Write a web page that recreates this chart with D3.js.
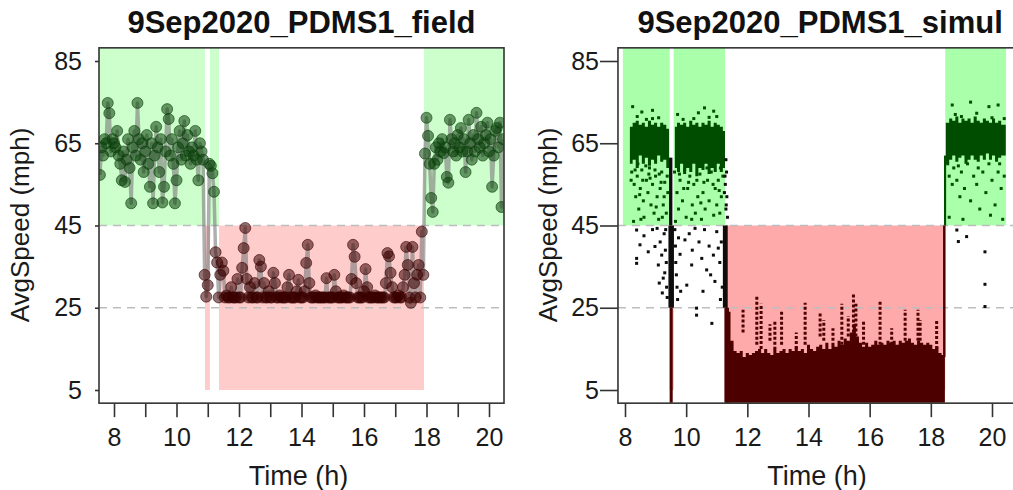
<!DOCTYPE html>
<html>
<head>
<meta charset="utf-8">
<script src="https://cdn.jsdelivr.net/npm/d3@7"></script>
<style>
  body { margin: 0; background: #fff; }
  svg { display: block; font-family: "Liberation Sans", Arial, sans-serif; }
</style>
</head>
<body>
<svg id="chart" width="1013" height="490"></svg>
<script>
// ---------------- data ----------------
var yTicks = [5, 25, 45, 65, 85];
var thresholds = [25, 45];

// field panel: avg speed every 3 minutes starting at 7.55 h
var fieldStart = 7.55, fieldStep = 0.05;
var fieldSpeed = [
  57.3, 64, 62, 66, 65, 74.8, 72.3, 63, 66,
  65, 64, 68, 62, 60, 56, 63, 55.6, 61, 66, 59, 50.4, 64, 68, 62, 74.8, 66, 61, 65, 58,
  63, 67, 60, 54.4, 65, 50.4, 62, 69, 64, 58, 66, 50.6, 54.4, 63, 73.3, 70.9, 62, 66, 60, 50.4,
  56, 64, 68, 61, 65, 70.4, 62, 67, 63, 60, 64, 62, 68, 61, 56, 65, 63, 61, 33, 27.7,
  30.5, 60, 59.5, 57.7, 53.2, 38.5, 36, 27.5, 33, 36, 34, 27.5, 28, 27.5, 27.5, 30, 27.5, 27.5, 27.5, 32,
  27.5, 27.5, 34.7, 39.5, 44.4, 32, 27.5, 30, 27.5, 27.5, 31, 27.5, 27.5, 36.6, 35, 27.5, 31, 27.5, 27.5, 29,
  27.5, 27.5, 33.5, 31, 27.5, 27.5, 28, 27.5, 27.5, 27.5, 27.5, 30, 33, 27.5, 27.5, 27.5, 27.5, 29, 31.8, 27.5,
  27.5, 27.5, 29, 35.9, 40.3, 31, 27.5, 27.5, 27.5, 28, 27.5, 27.5, 27.5, 27.5, 27.5, 27.5, 32.2, 27.5, 27.5, 27.5,
  27.5, 33, 29, 27.5, 27.5, 27.5, 27.5, 28, 27.5, 27.5, 27.5, 27.5, 32, 40.3, 37.4, 31, 27.5, 27.5, 27.5, 27.5,
  29, 34.4, 30, 27.5, 27.5, 27.5, 27.5, 28, 27.5, 27.5, 27.5, 27.5, 27.5, 27.5, 31, 38.3, 37.5, 33.5, 30, 27.5,
  27.5, 27.5, 28, 27.5, 27.5, 30, 33, 39.8, 35.4, 27.5, 26.2, 39.8, 31, 27.5, 33, 35.4, 27.5, 43.5, 33, 62.5,
  71.2, 66.8, 60, 51.7, 48.3, 60, 64, 61, 65, 63, 66, 62.6, 64, 56.8, 55.4, 70.7, 66, 63, 65, 62,
  67, 64, 68.7, 63, 66, 58, 63, 70.7, 65, 61, 67, 63, 72.4, 66, 64, 69, 62, 65, 67, 70,
  63, 66, 54.4, 62, 68, 68.7, 64, 70, 49.5, 66
];
var fieldGreen = [[7.4, 10.91], [11.07, 11.36], [17.92, 20.6]];
var fieldRed = [[10.91, 11.07], [11.36, 17.92]];

// simulation panel
var simGreen = [[7.93, 9.46], [9.59, 11.27], [18.47, 20.46]];
var simRed = [[9.46, 9.59], [11.27, 18.47]];

// dense cores of the simulated cloud: [time, low, high]
var simGreenCore = [
  [[8.16, 60, 69], [8.25, 61, 70], [8.35, 59, 70.5], [8.45, 62, 69.5], [8.55, 60, 70], [8.65, 61.5, 69],
   [8.75, 59.5, 70.5], [8.85, 61, 69.5], [8.95, 60, 70], [9.05, 62, 69], [9.15, 60.5, 70], [9.25, 61, 69.5],
   [9.35, 59, 68.5], [9.44, 60, 68]],
  [[9.63, 59, 69], [9.7, 58, 70], [9.8, 60, 69.5], [9.9, 57.5, 70], [10.0, 59, 69], [10.1, 58, 70.5],
   [10.2, 60, 69.5], [10.3, 57, 70], [10.4, 59, 69], [10.5, 58.5, 70], [10.6, 60, 69.5], [10.7, 57.5, 70.5],
   [10.8, 59, 69], [10.9, 58, 70], [11.0, 60, 69.5], [11.1, 58, 69], [11.2, 59, 68], [11.27, 59, 68]],
  [[18.49, 60, 70], [18.6, 61, 71], [18.7, 62, 70.5], [18.8, 60.5, 71.5], [18.9, 61.5, 70], [19.0, 62, 71],
   [19.1, 60, 70.5], [19.2, 61, 71], [19.3, 62, 70], [19.4, 61, 71.5], [19.5, 60.5, 70.5], [19.6, 62, 70],
   [19.7, 61, 71], [19.8, 62.5, 70.5], [19.9, 61, 70], [20.0, 62, 71], [20.1, 60.5, 70], [20.2, 61.5, 70.5],
   [20.3, 62, 69.5], [20.45, 62, 69.5]]
];
// upper edge of the congested (dark red) cloud: [time, top]
var simRedMass = [
  [11.3, 45], [11.36, 24], [11.45, 17], [11.55, 14.5], [11.65, 14], [11.75, 14.5], [11.85, 13], [11.95, 14],
  [12.05, 13.5], [12.15, 14], [12.25, 14.5], [12.35, 15], [12.45, 14], [12.55, 15], [12.65, 14], [12.75, 13.5],
  [12.85, 15.5], [12.95, 14], [13.05, 14.5], [13.15, 15], [13.25, 14], [13.35, 15], [13.45, 14.5], [13.55, 15.5],
  [13.65, 14.5], [13.75, 15], [13.85, 14], [13.95, 16], [14.05, 15], [14.15, 14.5], [14.25, 15.5], [14.35, 16],
  [14.45, 15], [14.55, 16.5], [14.65, 15], [14.75, 16.5], [14.85, 15.5], [14.95, 17], [15.05, 16], [15.15, 17.5],
  [15.25, 17], [15.35, 19], [15.45, 21], [15.55, 18], [15.65, 16.5], [15.75, 15.5], [15.85, 16.5], [15.95, 15.5],
  [16.05, 16], [16.15, 17], [16.25, 16], [16.35, 16.5], [16.45, 16], [16.55, 17], [16.65, 16.5], [16.75, 17],
  [16.85, 16], [16.95, 17], [17.05, 16.5], [17.15, 17], [17.25, 17.5], [17.35, 16.5], [17.45, 16], [17.55, 17],
  [17.65, 16.5], [17.75, 16], [17.85, 16.5], [17.95, 16], [18.05, 15], [18.15, 15.5], [18.25, 14], [18.35, 13.5],
  [18.46, 13.5]
];
// vertical bursts of points: [t0, t1, low, high, kind]
var simStrips = [
  [9.44, 9.55, 45, 61.5, "k"], [9.42, 9.6, 25, 45, "k"], [9.46, 9.56, 1.9, 25, "r"],
  [11.2, 11.33, 25, 45, "k"], [11.25, 11.4, 1.9, 25, "r"],
  [18.43, 18.5, 45, 62, "g"], [18.4, 18.48, 13, 45, "r"]
];
// columns of congested points above the cloud: [time, low, high]
var simSpikes = [
  [11.86, 19, 24.5], [12.31, 16, 27.7], [12.45, 15, 26], [12.74, 17, 21], [12.9, 16, 22], [13.12, 16, 24.5],
  [13.6, 15, 19], [13.89, 16, 26.2], [14.38, 18, 24], [14.5, 17, 22], [14.8, 17, 20], [15.09, 16, 26],
  [15.3, 18, 23], [15.47, 19, 28.5], [15.55, 18, 26], [15.8, 16, 22], [16.34, 16, 26.9], [16.72, 16, 20],
  [17.16, 17, 24.5], [17.58, 17, 24.5], [17.65, 17, 22], [18.19, 15, 22]
];
var simGreenDots = [
  [8.25, 73.9], [8.55, 72.6], [8.9, 73], [8.9, 71], [8.4, 71.5], [9.1, 71.2], [8.7, 70.8],
  [9.72, 72], [10.6, 73.6], [10.9, 72.8], [11.0, 71.5], [10.25, 71], [10.75, 71.3], [9.9, 70.8], [10.4, 72.4],
  [18.7, 74.3], [19.3, 75], [19.9, 73.9], [20.2, 74.3], [18.8, 72], [19.0, 71.5], [19.5, 72.3], [20.0, 71.2], [20.4, 71],
  [8.22, 58], [8.3, 55], [8.35, 52], [8.4, 57], [8.45, 49], [8.5, 54], [8.55, 58.5], [8.6, 51], [8.62, 47], [8.7, 56],
  [8.75, 53], [8.8, 59], [8.85, 50], [8.9, 55], [8.95, 48], [9.0, 57], [9.05, 52], [9.1, 46.5], [9.15, 54], [9.2, 58],
  [9.25, 50], [9.3, 55.5], [9.35, 48], [9.4, 53], [8.28, 46], [8.52, 46.5], [8.68, 59.5], [9.02, 49.5], [9.22, 47],
  [8.42, 60], [8.82, 56.5], [9.12, 57.5], [8.2, 56], [8.33, 58.5], [8.58, 56], [8.78, 57.5], [8.98, 58.5],
  [9.18, 55.5], [9.38, 57], [8.48, 52.5], [9.28, 52],
  [9.62, 58], [9.7, 53], [9.75, 49], [9.8, 56], [9.88, 51], [9.95, 58.5], [10.0, 47], [10.05, 54], [10.12, 57],
  [10.2, 50], [10.25, 55], [10.3, 48], [10.38, 52], [10.45, 57.5], [10.5, 46.5], [10.55, 53], [10.62, 49], [10.7, 56],
  [10.75, 51], [10.82, 58], [10.9, 47.5], [10.95, 54], [11.0, 50], [11.05, 56], [11.1, 48], [11.15, 52], [11.2, 57],
  [9.65, 46], [10.18, 46.5], [10.68, 59], [11.12, 59], [9.78, 57.5], [10.08, 55.5], [10.35, 56], [10.58, 55.5],
  [10.88, 55], [11.08, 53.5], [9.92, 54], [10.48, 50.5],
  [18.55, 60], [18.6, 57], [18.7, 55], [18.75, 59], [18.85, 56], [18.95, 52], [19.0, 58], [19.1, 54], [19.2, 60],
  [19.3, 51], [19.4, 57], [19.5, 55], [19.6, 49], [19.7, 58], [19.8, 53], [19.9, 60], [20.0, 56], [20.1, 50],
  [20.2, 58], [20.3, 54], [20.4, 57], [18.6, 47], [19.05, 46.5], [19.95, 47.5], [20.35, 46.5], [18.9, 59.5],
  [19.55, 59], [20.25, 60]
];
var simBlackDots = [
  [8.38, 43.9], [8.49, 40.3], [8.38, 37], [8.38, 35.8], [8.76, 38.6], [8.98, 39.9], [9.09, 35.4], [9.2, 37.8],
  [9.25, 32.2], [8.62, 42.5], [9.05, 44.3], [9.15, 41], [9.28, 43], [9.32, 39], [9.35, 36], [9.3, 33.5], [9.36, 30],
  [9.38, 27.5], [9.33, 44], [9.22, 28.6], [9.12, 31], [8.9, 44],
  [9.63, 44], [9.65, 40], [9.66, 36], [9.68, 33], [9.7, 30], [9.72, 27], [9.75, 42], [9.8, 38], [9.82, 29],
  [9.96, 41.5], [10.02, 30.5], [10.29, 44.3], [10.34, 24.9], [10.34, 23.2], [10.84, 21.2], [10.18, 35.4], [10.51, 37],
  [10.67, 34.2], [10.89, 37.8], [10.94, 31.4], [11.05, 39.5], [10.1, 43], [10.42, 41], [10.6, 44], [10.75, 40],
  [10.8, 33], [11.0, 43.5], [11.1, 36], [11.15, 41], [11.18, 30], [11.12, 27], [10.55, 29], [10.2, 39],
  [11.3, 61], [11.32, 58], [11.28, 55], [11.33, 52], [11.3, 49], [11.35, 47], [11.27, 57], [11.31, 50], [11.25, 53],
  [18.85, 43.9], [18.9, 41.1], [19.17, 42.3], [19.77, 38.6], [19.77, 30.7], [19.77, 25.3]
];

// ---------------- colours ----------------
var col = {
  fieldGreen: "#ccffcc", fieldRed: "#ffcccc",
  simGreen: "#aaffaa", simRed: "#ffaaaa",
  ptGreen: "#0a400a", ptRed: "#3a0000",
  dotGreen: "#004d00", dotRed: "#4d0000", dotBlack: "#0d0d0d",
  frame: "#333", text: "#1a1a1a", dash: "#bdbdbd"
};
var kindCol = { g: col.dotGreen, r: col.dotRed, k: col.dotBlack };

var svg = d3.select("#chart");

// shared y scale, R style 4% padding around [5, 85]
var y = d3.scaleLinear().domain([5, 85]).range([390, 61]);
var usrY = [1.8, 88.2];

function panel(opt) {
  var x = opt.x, usrX = opt.usrX;
  var box = {left: x(usrX[0]), right: x(usrX[1]), top: y(usrY[1]), bottom: y(usrY[0])};
  var g = svg.append("g");
  var clipId = "clip-" + opt.id;
  svg.append("clipPath").attr("id", clipId)
    .append("rect")
      .attr("x", box.left).attr("y", box.top)
      .attr("width", box.right - box.left).attr("height", box.bottom - box.top);
  var plot = g.append("g").attr("clip-path", "url(#" + clipId + ")");

  // background bands
  plot.selectAll(".gband").data(opt.green).enter().append("rect")
    .attr("x", function(d) { return x(d[0]); })
    .attr("width", function(d) { return x(d[1]) - x(d[0]); })
    .attr("y", y(usrY[1]))
    .attr("height", y(45) - y(usrY[1]))
    .attr("fill", opt.greenCol);
  plot.selectAll(".rband").data(opt.red).enter().append("rect")
    .attr("x", function(d) { return x(d[0]); })
    .attr("width", function(d) { return x(d[1]) - x(d[0]); })
    .attr("y", y(45))
    .attr("height", y(5) - y(45))
    .attr("fill", opt.redCol);

  // threshold lines
  plot.selectAll(".thr").data(thresholds).enter().append("line")
    .attr("x1", box.left).attr("x2", box.right)
    .attr("y1", function(d) { return y(d); }).attr("y2", function(d) { return y(d); })
    .attr("stroke", col.dash).attr("stroke-width", 1.5).attr("stroke-dasharray", "8,6");

  return {g: g, plot: plot, box: box};
}

function frameAndAxes(p, opt) {
  var box = p.box, x = opt.x;
  p.g.append("rect")
    .attr("x", box.left).attr("y", box.top)
    .attr("width", box.right - box.left).attr("height", box.bottom - box.top)
    .attr("fill", "none").attr("stroke", col.frame).attr("stroke-width", 1.6);

  var xa = p.g.append("g")
    .attr("transform", "translate(0," + box.bottom + ")")
    .call(d3.axisBottom(x).tickValues(opt.xTicks).tickSize(14).tickPadding(11)
      .tickFormat(function(d) { return d % 2 ? "" : d; }));
  var ya = p.g.append("g")
    .attr("transform", "translate(" + box.left + ",0)")
    .call(d3.axisLeft(y).tickValues(yTicks).tickSize(opt.yTickLen).tickPadding(opt.yPad));
  [xa, ya].forEach(function(a) {
    a.select(".domain").remove();
    a.selectAll("line").attr("stroke", col.frame).attr("stroke-width", 1.6);
    a.selectAll("text").attr("fill", col.text).style("font-size", "25px")
      .style("font-family", "'Liberation Sans', Arial, sans-serif");
  });

  var cx = (box.left + box.right) / 2;
  p.g.append("text").attr("x", cx).attr("y", 33).attr("text-anchor", "middle")
    .style("font-size", "31px").style("font-weight", "bold").attr("fill", "#111")
    .text(opt.title);
  p.g.append("text").attr("x", cx - 3).attr("y", 485).attr("text-anchor", "middle")
    .style("font-size", "27px").attr("fill", col.text).text("Time (h)");
  p.g.append("text")
    .attr("transform", "translate(" + opt.ylabX + ",225) rotate(-90)")
    .attr("text-anchor", "middle")
    .style("font-size", "26px").attr("fill", col.text).text("AvgSpeed (mph)");
}

// ---------------- field panel ----------------
var xL = d3.scaleLinear().domain([8, 20]).range([114, 489]);
var optL = {id: "field", x: xL, usrX: [7.52, 20.48], green: fieldGreen, red: fieldRed,
  greenCol: col.fieldGreen, redCol: col.fieldRed, xTicks: d3.range(8, 21),
  yTickLen: 4, yPad: 13, ylabX: 29, title: "9Sep2020_PDMS1_field"};
var pL = panel(optL);

var fieldData = fieldSpeed.map(function(v, i) { return {t: fieldStart + i * fieldStep, v: v}; });

pL.plot.append("path").datum(fieldData)
  .attr("d", d3.line().x(function(d) { return xL(d.t); }).y(function(d) { return y(d.v); }))
  .attr("fill", "none").attr("stroke", "#7a7a7a").attr("stroke-opacity", 0.6)
  .attr("stroke-width", 3.5).attr("stroke-linejoin", "round");

pL.plot.selectAll(".pt").data(fieldData).enter().append("circle")
  .attr("cx", function(d) { return xL(d.t); })
  .attr("cy", function(d) { return y(d.v); })
  .attr("r", 5.5)
  .attr("fill", function(d) { return d.v >= 45 ? col.ptGreen : col.ptRed; })
  .attr("fill-opacity", 0.55)
  .attr("stroke", function(d) { return d.v >= 45 ? col.ptGreen : col.ptRed; })
  .attr("stroke-opacity", 0.6).attr("stroke-width", 1);

frameAndAxes(pL, optL);

// ---------------- simulation panel ----------------
var xR = d3.scaleLinear().domain([8, 20]).range([625, 992]);
var optR = {id: "simul", x: xR, usrX: [7.77, 20.99], green: simGreen, red: simRed,
  greenCol: col.simGreen, redCol: col.simRed, xTicks: [8, 10, 12, 14, 16, 18, 20],
  yTickLen: 18, yPad: 1, ylabX: 557, title: "9Sep2020_PDMS1_simul"};
var pR = panel(optR);

pR.plot.append("path").datum(simRedMass)
  .attr("d", d3.area().curve(d3.curveStepAfter)
    .x(function(d) { return xR(d[0]); })
    .y0(y(1.9))
    .y1(function(d) { return y(d[1]); }))
  .attr("fill", col.dotRed);

pR.plot.selectAll(".strip").data(simStrips).enter().append("rect")
  .attr("x", function(d) { return xR(d[0]); })
  .attr("width", function(d) { return xR(d[1]) - xR(d[0]); })
  .attr("y", function(d) { return y(d[3]); })
  .attr("height", function(d) { return y(d[2]) - y(d[3]); })
  .attr("fill", function(d) { return kindCol[d[4]]; });

pR.plot.selectAll(".spike").data(simSpikes).enter().append("line")
  .attr("x1", function(d) { return xR(d[0]); }).attr("x2", function(d) { return xR(d[0]); })
  .attr("y1", function(d) { return y(d[1]); }).attr("y2", function(d) { return y(d[2]); })
  .attr("stroke", col.dotRed).attr("stroke-width", 3).attr("stroke-dasharray", "3,2");

pR.plot.selectAll(".core").data(simGreenCore).enter().append("path")
  .attr("d", d3.area().curve(d3.curveStepAfter)
    .x(function(d) { return xR(d[0]); })
    .y0(function(d) { return y(d[1]); })
    .y1(function(d) { return y(d[2]); }))
  .attr("fill", col.dotGreen);

function dots(data, colour) {
  pR.plot.selectAll(null).data(data).enter().append("rect")
    .attr("x", function(d) { return xR(d[0]) - 1.5; })
    .attr("y", function(d) { return y(d[1]) - 1.5; })
    .attr("width", 3).attr("height", 3)
    .attr("fill", colour);
}
dots(simGreenDots, col.dotGreen);
dots(simBlackDots, col.dotBlack);

frameAndAxes(pR, optR);
</script>
</body>
</html>
